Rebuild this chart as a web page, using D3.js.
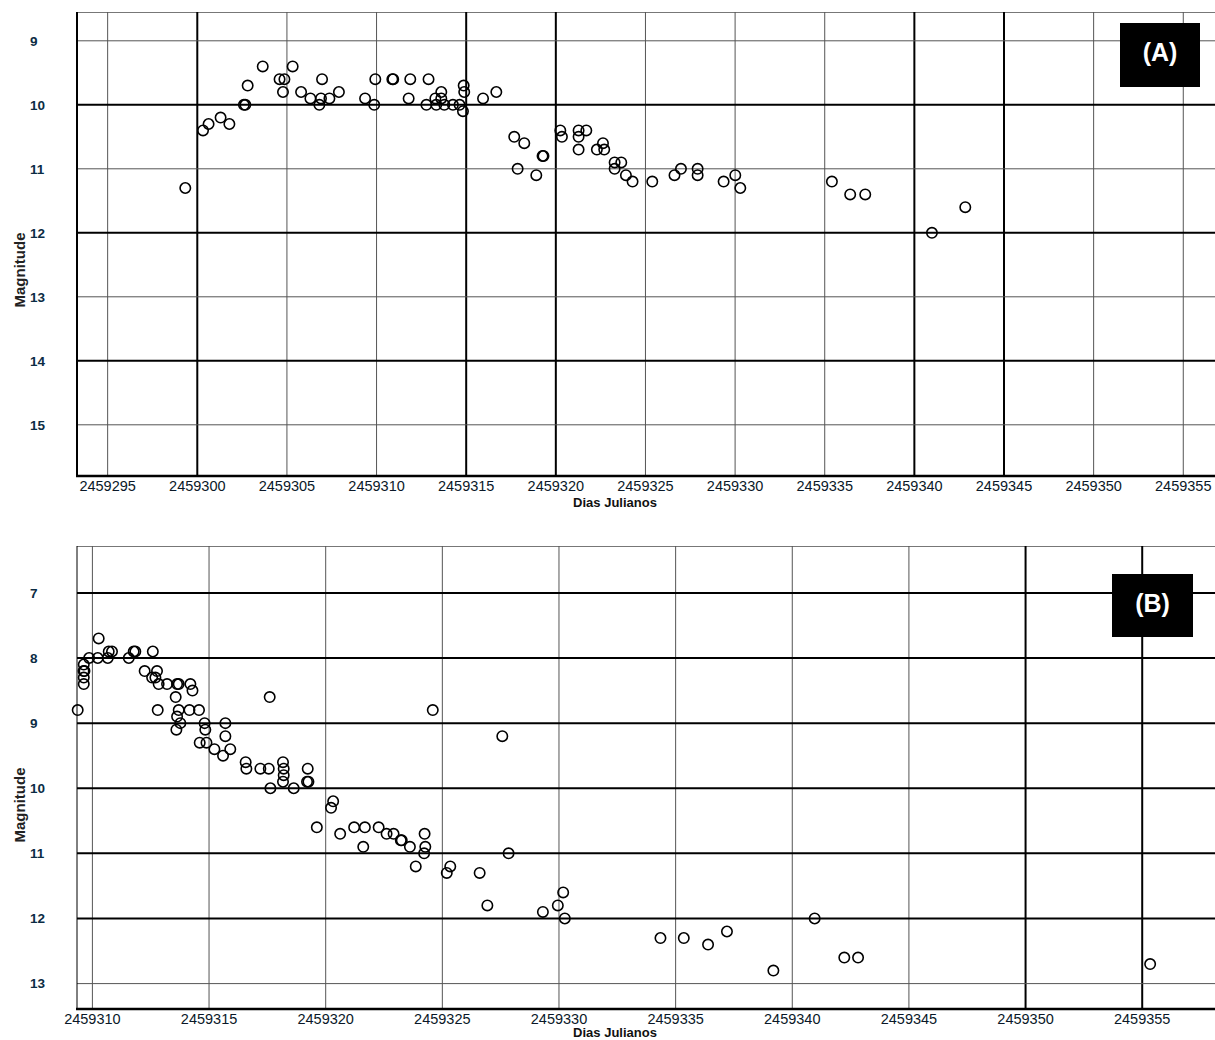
<!DOCTYPE html>
<html>
<head>
<meta charset="utf-8">
<script src="https://cdnjs.cloudflare.com/ajax/libs/d3/7.8.5/d3.min.js"></script>
<style>
  body { margin: 0; background: #fff; }
  svg { display: block; font-family: "Liberation Sans", Arial, sans-serif; }
</style>
</head>
<body>
<div id="chart"></div>
<script>
// Panel (A) observations: Julian day and visual magnitude
const jdA = [
  2459299.33, 2459300.32, 2459300.63, 2459301.30, 2459301.79, 2459302.60, 2459302.68, 2459302.81,
  2459303.65, 2459304.59, 2459304.86, 2459304.78, 2459305.32, 2459305.79, 2459306.31, 2459306.81,
  2459306.96, 2459306.90, 2459307.37, 2459307.90, 2459309.36, 2459309.93, 2459309.87, 2459310.88,
  2459310.93, 2459311.88, 2459312.90, 2459311.79, 2459313.61, 2459313.28, 2459313.61, 2459312.78,
  2459313.33, 2459313.78, 2459314.26, 2459314.63, 2459314.86, 2459314.89, 2459314.82, 2459315.94,
  2459316.68, 2459317.68, 2459318.24, 2459317.87, 2459318.91, 2459319.26, 2459319.31, 2459320.25,
  2459320.34, 2459321.27, 2459321.27, 2459321.70, 2459321.27, 2459322.29, 2459322.63, 2459322.70,
  2459323.28, 2459323.65, 2459323.28, 2459323.91, 2459324.28, 2459325.38, 2459326.62, 2459326.98,
  2459327.91, 2459327.91, 2459329.36, 2459330.01, 2459330.29, 2459335.40, 2459336.42, 2459337.26,
  2459340.98, 2459342.84
];
const magA = [
  11.3, 10.4, 10.3, 10.2, 10.3, 10.0, 10.0, 9.7,
  9.4, 9.6, 9.6, 9.8, 9.4, 9.8, 9.9, 10.0,
  9.6, 9.9, 9.9, 9.8, 9.9, 9.6, 10.0, 9.6,
  9.6, 9.6, 9.6, 9.9, 9.8, 9.9, 9.9, 10.0,
  10.0, 10.0, 10.0, 10.0, 9.7, 9.8, 10.1, 9.9,
  9.8, 10.5, 10.6, 11.0, 11.1, 10.8, 10.8, 10.4,
  10.5, 10.4, 10.5, 10.4, 10.7, 10.7, 10.6, 10.7,
  10.9, 10.9, 11.0, 11.1, 11.2, 11.2, 11.1, 11.0,
  11.0, 11.1, 11.2, 11.1, 11.3, 11.2, 11.4, 11.4,
  12.0, 11.6
];

// Panel (B) observations
const jdB = [
  2459309.37, 2459309.63, 2459309.66, 2459309.62, 2459309.63, 2459309.63, 2459309.86, 2459310.27,
  2459310.23, 2459310.66, 2459310.70, 2459310.84, 2459311.56, 2459311.77, 2459311.84, 2459312.59,
  2459312.24, 2459312.56, 2459312.70, 2459312.77, 2459312.84, 2459313.20, 2459313.63, 2459313.70,
  2459314.20, 2459314.29, 2459313.57, 2459312.80, 2459313.70, 2459314.16, 2459314.57, 2459313.63,
  2459313.77, 2459313.60, 2459314.81, 2459314.84, 2459314.60, 2459314.89, 2459315.23, 2459315.60,
  2459315.70, 2459315.70, 2459315.91, 2459316.57, 2459316.60, 2459317.20, 2459317.56, 2459317.60,
  2459317.63, 2459318.17, 2459318.20, 2459318.20, 2459318.17, 2459318.63, 2459319.23, 2459319.20,
  2459319.26, 2459320.32, 2459320.23, 2459319.62, 2459320.62, 2459321.22, 2459321.68, 2459321.61,
  2459322.27, 2459322.61, 2459322.91, 2459323.22, 2459323.26, 2459323.61, 2459324.24, 2459324.27,
  2459324.22, 2459323.86, 2459325.19, 2459325.34, 2459326.60, 2459326.93, 2459327.84, 2459324.59,
  2459327.57, 2459329.31, 2459329.95, 2459330.18, 2459330.25, 2459334.35, 2459335.35, 2459336.39,
  2459337.20, 2459339.19, 2459340.96, 2459342.23, 2459342.82, 2459355.34
];
const magB = [
  8.8, 8.1, 8.2, 8.2, 8.3, 8.4, 8.0, 7.7,
  8.0, 8.0, 7.9, 7.9, 8.0, 7.9, 7.9, 7.9,
  8.2, 8.3, 8.3, 8.2, 8.4, 8.4, 8.4, 8.4,
  8.4, 8.5, 8.6, 8.8, 8.8, 8.8, 8.8, 8.9,
  9.0, 9.1, 9.0, 9.1, 9.3, 9.3, 9.4, 9.5,
  9.0, 9.2, 9.4, 9.6, 9.7, 9.7, 9.7, 8.6,
  10.0, 9.6, 9.7, 9.8, 9.9, 10.0, 9.7, 9.9,
  9.9, 10.2, 10.3, 10.6, 10.7, 10.6, 10.6, 10.9,
  10.6, 10.7, 10.7, 10.8, 10.8, 10.9, 10.7, 10.9,
  11.0, 11.2, 11.3, 11.2, 11.3, 11.8, 11.0, 8.8,
  9.2, 11.9, 11.8, 11.6, 12.0, 12.3, 12.3, 12.4,
  12.2, 12.8, 12.0, 12.6, 12.6, 12.7
];

// Tick values
const xTicksA = [2459295, 2459300, 2459305, 2459310, 2459315, 2459320, 2459325, 2459330, 2459335, 2459340, 2459345, 2459350, 2459355];
const yTicksA = [9, 10, 11, 12, 13, 14, 15];
const xTicksB = [2459310, 2459315, 2459320, 2459325, 2459330, 2459335, 2459340, 2459345, 2459350, 2459355];
const yTicksB = [7, 8, 9, 10, 11, 12, 13];

// gridlines drawn heavier in the original
const heavyXA = [2459300, 2459315, 2459320, 2459340, 2459345];
const heavyYA = [10, 12, 14];
const heavyXB = [2459350, 2459355];
const heavyYB = [7, 8, 9, 10, 11, 12];

const svg = d3.select("#chart").append("svg")
  .attr("width", 1215)
  .attr("height", 1040);

const panels = [
  {
    jd: jdA, mag: magA, xTicks: xTicksA, yTicks: yTicksA, heavyX: heavyXA, heavyY: heavyYA,
    xDomain: [2459293.29, 2459356.77], yDomain: [8.55, 15.8],
    left: 77, right: 1215, top: 12, bottom: 476, leftAxisW: 2,
    label: "(A)", box: [1120, 23, 80, 64], xLabelY: 491, titleY: 507, magY: 270
  },
  {
    jd: jdB, mag: magB, xTicks: xTicksB, yTicks: yTicksB, heavyX: heavyXB, heavyY: heavyYB,
    xDomain: [2459309.34, 2459358.12], yDomain: [6.28, 13.39],
    left: 77, right: 1215, top: 546, bottom: 1009, leftAxisW: 1,
    label: "(B)", box: [1112, 574, 81, 63], xLabelY: 1024, titleY: 1037, magY: 805
  }
];

panels.forEach(p => {
  const x = d3.scaleLinear().domain(p.xDomain).range([p.left, p.right]);
  const y = d3.scaleLinear().domain(p.yDomain).range([p.top, p.bottom]);
  const g = svg.append("g");

  // top border
  g.append("line")
    .attr("x1", p.left).attr("x2", p.right)
    .attr("y1", p.top + 0.5).attr("y2", p.top + 0.5)
    .attr("stroke", "#777").attr("stroke-width", 1);

  // vertical gridlines
  g.selectAll(".vgrid")
    .data(p.xTicks)
    .join("line")
    .attr("x1", d => x(d)).attr("x2", d => x(d))
    .attr("y1", p.top).attr("y2", p.bottom)
    .attr("stroke", d => p.heavyX.includes(d) ? "#000" : "#555")
    .attr("stroke-width", d => p.heavyX.includes(d) ? 2 : 1);

  // horizontal gridlines
  g.selectAll(".hgrid")
    .data(p.yTicks)
    .join("line")
    .attr("x1", p.left).attr("x2", p.right)
    .attr("y1", d => y(d)).attr("y2", d => y(d))
    .attr("stroke", d => p.heavyY.includes(d) ? "#000" : "#555")
    .attr("stroke-width", d => p.heavyY.includes(d) ? 2 : 1);

  // axes lines
  g.append("line")
    .attr("x1", p.left).attr("x2", p.left)
    .attr("y1", p.top).attr("y2", p.bottom)
    .attr("stroke", "#000").attr("stroke-width", p.leftAxisW);
  g.append("line")
    .attr("x1", p.left - 1).attr("x2", p.right)
    .attr("y1", p.bottom).attr("y2", p.bottom)
    .attr("stroke", "#000").attr("stroke-width", 2.5);

  // x tick labels
  g.selectAll(".xlab")
    .data(p.xTicks)
    .join("text")
    .attr("x", d => x(d))
    .attr("y", p.xLabelY)
    .attr("text-anchor", "middle")
    .attr("font-size", 14.5)
    .attr("fill", "#0a1828")
    .text(d3.format("d"));

  // y tick labels
  g.selectAll(".ylab")
    .data(p.yTicks)
    .join("text")
    .attr("x", 30)
    .attr("y", d => y(d))
    .attr("dy", "0.36em")
    .attr("font-size", 13.5)
    .attr("font-weight", "bold")
    .attr("fill", "#0b2c44")
    .text(d => d);

  // axis titles
  g.append("text")
    .attr("x", 615).attr("y", p.titleY)
    .attr("text-anchor", "middle")
    .attr("font-size", 13)
    .attr("font-weight", "bold")
    .attr("fill", "#111")
    .text("Dias Julianos");
  g.append("text")
    .attr("transform", `translate(25,${p.magY}) rotate(-90)`)
    .attr("text-anchor", "middle")
    .attr("font-size", 15)
    .attr("font-weight", "bold")
    .attr("fill", "#222")
    .text("Magnitude");

  // data points
  g.selectAll(".pt")
    .data(p.jd.map((d, i) => ({ jd: d, mag: p.mag[i] })))
    .join("circle")
    .attr("cx", d => x(d.jd))
    .attr("cy", d => y(d.mag))
    .attr("r", 5.2)
    .attr("fill", "none")
    .attr("stroke", "#000")
    .attr("stroke-width", 1.6);

  // panel label
  const [bx, by, bw, bh] = p.box;
  g.append("rect")
    .attr("x", bx).attr("y", by)
    .attr("width", bw).attr("height", bh)
    .attr("fill", "#000");
  g.append("text")
    .attr("x", bx + bw / 2).attr("y", by + bh / 2 - 3)
    .attr("dy", "0.36em")
    .attr("text-anchor", "middle")
    .attr("font-size", 25)
    .attr("font-weight", "bold")
    .attr("fill", "#fff")
    .text(p.label);
});
</script>
</body>
</html>
